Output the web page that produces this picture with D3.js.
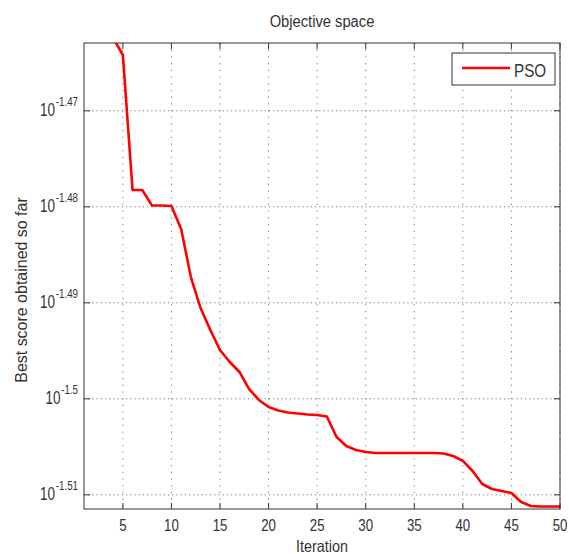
<!DOCTYPE html>
<html>
<head>
<meta charset="utf-8">
<script src="https://cdn.jsdelivr.net/npm/d3@7"></script>
<style>
  html, body { margin: 0; padding: 0; background: #fff; }
  svg { display: block; }
  text { font-family: "Liberation Sans", Arial, Helvetica, sans-serif; fill: #333; }
</style>
</head>
<body>
<svg id="chart" width="569" height="554"></svg>
<script>
// ---- data ----
const iterations = d3.range(1, 51);
const psoScores = [
  0.035075, 0.034914, 0.034714, 0.034481, 0.034341, 0.033247, 0.033247, 0.033123, 0.033123, 0.033119,
  0.032937, 0.032560, 0.032319, 0.032149, 0.031995, 0.031903, 0.031827, 0.031697, 0.031614, 0.031561,
  0.031534, 0.031519, 0.031511, 0.031504, 0.031500, 0.031489, 0.031334, 0.031267, 0.031237, 0.031222,
  0.031214, 0.031214, 0.031214, 0.031214, 0.031214, 0.031214, 0.031214, 0.031211, 0.031192, 0.031155,
  0.031080, 0.030983, 0.030946, 0.030931, 0.030916, 0.030850, 0.030820, 0.030816, 0.030816, 0.030816
];
const xTicks = [5, 10, 15, 20, 25, 30, 35, 40, 45, 50];
const yTickExponents = [-1.47, -1.48, -1.49, -1.5, -1.51];
const yDomain = [0.030798, 0.034440];
const xDomain = [1, 50];
const seriesName = "PSO";
const titleText = "Objective space";
const xLabel = "Iteration";
const yLabel = "Best score obtained so far";

// ---- layout ----
const pL = 84, pR = 560, pT = 43, pB = 509;
const svg = d3.select("#chart");
const x = d3.scaleLinear().domain(xDomain).range([pL, pR]);
const y = d3.scaleLog().domain(yDomain).range([pB, pT]);
const yTickVals = yTickExponents.map(e => Math.pow(10, e));

function label(g, px, py, str, size, anchor, sx, rot) {
  return g.append("text")
    .attr("transform", `translate(${px},${py})` + (rot ? ` rotate(${rot})` : "") + ` scale(${sx},1)`)
    .attr("text-anchor", anchor)
    .attr("font-size", size)
    .text(str);
}

svg.append("rect").attr("width", 569).attr("height", 554).attr("fill", "#fff");

// grid
const grid = svg.append("g");
grid.selectAll("line.gx").data(xTicks).enter().append("line")
  .attr("x1", d => x(d)).attr("x2", d => x(d)).attr("y1", pT).attr("y2", pB)
  .attr("stroke", "#777").attr("stroke-width", 1).attr("stroke-dasharray", "1.2,5.5");
grid.selectAll("line.gy").data(yTickVals).enter().append("line")
  .attr("x1", pL).attr("x2", pR).attr("y1", d => y(d)).attr("y2", d => y(d))
  .attr("stroke", "#777").attr("stroke-width", 1).attr("stroke-dasharray", "1.2,3");

// line
svg.append("clipPath").attr("id", "clip").append("rect")
  .attr("x", pL).attr("y", pT).attr("width", pR - pL).attr("height", pB - pT);
const line = d3.line().x((d, i) => x(iterations[i])).y(d => y(d));
svg.append("path").datum(psoScores)
  .attr("clip-path", "url(#clip)")
  .attr("d", line).attr("fill", "none").attr("stroke", "#ff0000")
  .attr("stroke-width", 2.6).attr("stroke-linejoin", "round");

// axes box + inward ticks
const axG = svg.append("g").attr("stroke", "#333").attr("stroke-width", 1);
axG.append("rect").attr("x", pL).attr("y", pT).attr("width", pR - pL).attr("height", pB - pT)
  .attr("fill", "none");
const tl = 6;
xTicks.forEach(t => {
  axG.append("line").attr("x1", x(t)).attr("x2", x(t)).attr("y1", pB).attr("y2", pB - tl);
  axG.append("line").attr("x1", x(t)).attr("x2", x(t)).attr("y1", pT).attr("y2", pT + tl);
});
yTickVals.forEach(t => {
  axG.append("line").attr("x1", pL).attr("x2", pL + tl).attr("y1", y(t)).attr("y2", y(t));
  axG.append("line").attr("x1", pR).attr("x2", pR - tl).attr("y1", y(t)).attr("y2", y(t));
});

// x tick labels
xTicks.forEach(t => label(svg, x(t), 531, String(t), 17, "middle", 0.78));

// y tick labels with superscript
yTickExponents.forEach((e, i) => {
  const t = svg.append("text")
    .attr("transform", `translate(78,${y(yTickVals[i]) + 5}) scale(0.75,1)`)
    .attr("text-anchor", "end")
    .attr("font-size", 18);
  t.append("tspan").text("10");
  t.append("tspan").attr("font-size", 13).attr("dy", -10).attr("dx", 1).text(String(e));
});

// title & axis labels
label(svg, (pL + pR) / 2, 27, titleText, 16, "middle", 0.92);
label(svg, (pL + pR) / 2, 552, xLabel, 16.5, "middle", 0.87);
label(svg, 27, 290, yLabel, 17, "middle", 0.94, -90);

// legend
const lg = svg.append("g");
lg.append("rect").attr("x", 452).attr("y", 53).attr("width", 103).attr("height", 32)
  .attr("fill", "#fff").attr("stroke", "#333").attr("stroke-width", 1);
lg.append("line").attr("x1", 462).attr("x2", 510).attr("y1", 68).attr("y2", 68)
  .attr("stroke", "#ff0000").attr("stroke-width", 2.6);
label(lg, 514, 76.5, seriesName, 17.5, "start", 0.87);
</script>
</body>
</html>
